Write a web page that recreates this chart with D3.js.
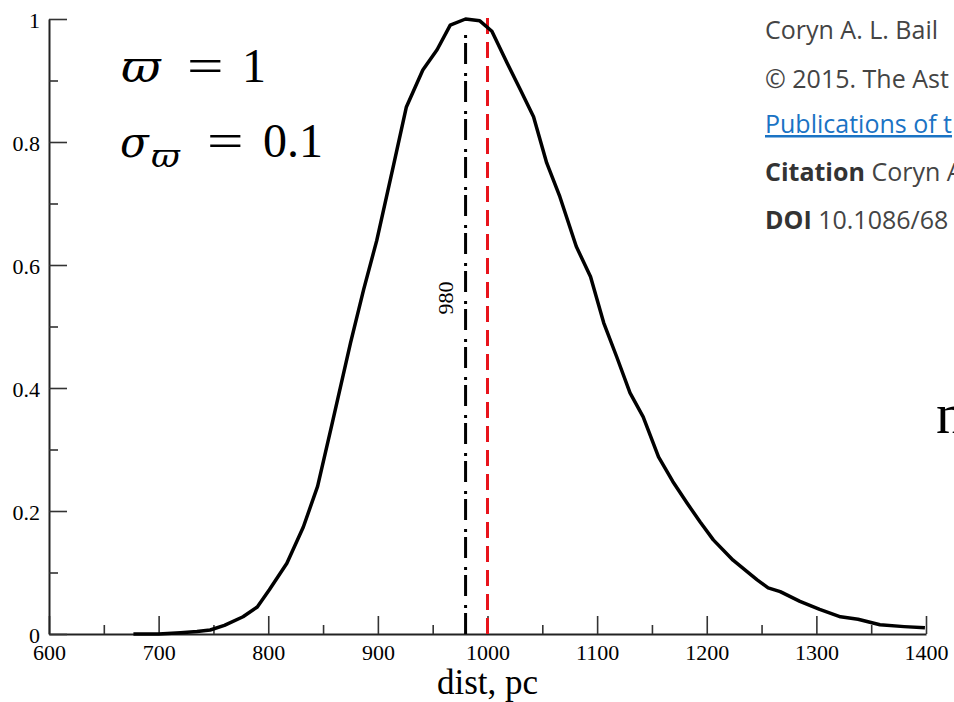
<!DOCTYPE html>
<html>
<head>
<meta charset="utf-8">
<script src="https://cdn.jsdelivr.net/npm/d3@7"></script>
<style>
  html, body { margin: 0; padding: 0; background: #fff; overflow: hidden; }
  svg { display: block; }
</style>
</head>
<body>
<svg id="chart" width="954" height="702"></svg>
<script>
// ---- data ----
const dist = [677, 700, 720, 735, 747, 760, 777, 790, 801, 817, 832, 845, 858, 875, 887, 899, 914, 926, 941, 954, 966, 980, 993, 1004, 1018, 1030, 1042, 1054, 1066, 1081, 1094, 1106, 1118, 1130, 1142, 1156, 1169, 1182, 1194, 1206, 1224, 1246, 1256, 1267, 1285, 1303, 1322, 1338, 1358, 1380, 1399];
const density = [0.000, 0.000, 0.002, 0.004, 0.0065, 0.014, 0.028, 0.044, 0.072, 0.115, 0.174, 0.24, 0.34, 0.473, 0.56, 0.64, 0.76, 0.857, 0.917, 0.95, 0.99, 1.0, 0.997, 0.98, 0.928, 0.885, 0.841, 0.766, 0.711, 0.63, 0.581, 0.506, 0.45, 0.392, 0.353, 0.288, 0.248, 0.213, 0.182, 0.153, 0.12, 0.088, 0.075, 0.069, 0.053, 0.04, 0.028, 0.024, 0.015, 0.012, 0.01];
const xMajorTicks = [600, 700, 800, 900, 1000, 1100, 1200, 1300, 1400];
const xMinorTicks = [650, 750, 850, 950, 1050, 1150, 1250, 1350];
const yMajorTicks = [0, 0.2, 0.4, 0.6, 0.8, 1];
const yMinorTicks = [0.1, 0.3, 0.5, 0.7, 0.9];
const yTickLabels = ["0", "0.2", "0.4", "0.6", "0.8", "1"];
const modeValue = 980;
const trueValue = 1000;
const xLabel = "dist, pc";
const sideLines = [
  [{t: "Coryn A. L. Bail", b: false}],
  [{t: "© 2015. The Ast", b: false}],
  [{t: "Publications of t", b: false, link: true}],
  [{t: "Citation", b: true}, {t: " Coryn A", b: false}],
  [{t: "DOI", b: true}, {t: " 10.1086/68", b: false}]
];

// ---- scales ----
const svg = d3.select("#chart");
const x = d3.scaleLinear().domain([600, 1400]).range([49, 926]);
const y = d3.scaleLinear().domain([0, 1]).range([634, 19]);
const serif = "'Liberation Serif', 'Times New Roman', serif";

// ---- axes ----
const xAxis = d3.axisBottom(x).tickValues(xMajorTicks).tickSizeInner(-18).tickSizeOuter(0).tickPadding(10).tickFormat(d3.format("d"));
const gx = svg.append("g").attr("transform", `translate(0,${y(0)})`).call(xAxis);
const xMinor = d3.axisBottom(x).tickValues(xMinorTicks).tickSizeInner(-9).tickSizeOuter(0).tickFormat("");
const gxm = svg.append("g").attr("transform", `translate(0,${y(0)})`).call(xMinor);
gxm.select(".domain").remove();

const yAxis = d3.axisLeft(y).tickValues(yMajorTicks).tickSizeInner(-18).tickSizeOuter(0).tickPadding(9)
  .tickFormat((d, i) => yTickLabels[i]);
const gy = svg.append("g").attr("transform", `translate(${x(600)},0)`).call(yAxis);
const yMinor = d3.axisLeft(y).tickValues(yMinorTicks).tickSizeInner(-9).tickSizeOuter(0).tickFormat("");
const gym = svg.append("g").attr("transform", `translate(${x(600)},0)`).call(yMinor);
gym.select(".domain").remove();

[gx, gy].forEach(g => {
  g.select(".domain").attr("stroke", "#222").attr("stroke-width", 2);
  g.selectAll(".tick text").attr("font-family", serif).attr("font-size", 22).attr("fill", "#000");
});
[gx, gxm, gy, gym].forEach(g => g.selectAll(".tick line").attr("stroke", "#333").attr("stroke-width", 1.6));
gy.selectAll(".tick text").attr("dy", "0.4em");

// ---- reference lines ----
svg.append("line")
  .attr("x1", x(modeValue)).attr("x2", x(modeValue))
  .attr("y1", y(0)).attr("y2", 29)
  .attr("stroke", "#000").attr("stroke-width", 3)
  .attr("stroke-dasharray", "21,5,3,9");
svg.append("line")
  .attr("x1", x(trueValue)).attr("x2", x(trueValue))
  .attr("y1", y(0)).attr("y2", 18)
  .attr("stroke", "#e8131b").attr("stroke-width", 3)
  .attr("stroke-dasharray", "16,8");
svg.append("text")
  .attr("transform", `translate(${x(modeValue) - 13},298) rotate(-90)`)
  .attr("text-anchor", "middle")
  .attr("font-family", serif).attr("font-size", 22).attr("fill", "#000")
  .text(String(modeValue));

// ---- curve ----
const pts = dist.map((d, i) => [d, density[i]]);
svg.append("path")
  .datum(pts)
  .attr("fill", "none")
  .attr("stroke", "#000")
  .attr("stroke-width", 3.5)
  .attr("stroke-linejoin", "round")
  .attr("d", d3.line().x(d => x(d[0])).y(d => y(d[1])));

// ---- axis label ----
svg.append("text")
  .attr("x", x(1000)).attr("y", 694)
  .attr("text-anchor", "middle")
  .attr("font-family", serif).attr("font-size", 35).attr("fill", "#000")
  .text(xLabel);

// ---- annotation (math) ----
const mathFont = "'DejaVu Serif', 'Liberation Serif', serif";
const ann = svg.append("g").attr("fill", "#000");
ann.append("text").attr("transform", "translate(121,82) scale(1.1,1)").attr("font-family", mathFont).attr("font-style", "italic").attr("font-size", 44).text("ϖ");
ann.append("text").attr("transform", "translate(187,82) scale(1.35,1)").attr("font-family", serif).attr("font-size", 48).text("=");
ann.append("text").attr("x", 242).attr("y", 82).attr("font-family", serif).attr("font-size", 48).text("1");
ann.append("text").attr("x", 120).attr("y", 157).attr("font-family", mathFont).attr("font-style", "italic").attr("font-size", 42).text("σ");
ann.append("text").attr("transform", "translate(151,167) scale(1.1,1)").attr("font-family", mathFont).attr("font-style", "italic").attr("font-size", 32).text("ϖ");
ann.append("text").attr("transform", "translate(207,157) scale(1.35,1)").attr("font-family", serif).attr("font-size", 48).text("=");
ann.append("text").attr("x", 263).attr("y", 157).attr("font-family", serif).attr("font-size", 48).text("0.1");

// ---- overlapping page text on the right ----
const sans = "'Open Sans', 'Noto Sans', sans-serif";
const baselines = [39, 88, 133, 181, 229];
sideLines.forEach((parts, i) => {
  const t = svg.append("text").attr("x", 765).attr("y", baselines[i])
    .attr("font-family", sans).attr("font-size", 25).attr("fill", "#444");
  parts.forEach(p => {
    const ts = t.append("tspan").text(p.t);
    if (p.b) ts.attr("font-weight", "bold").attr("fill", "#333");
    if (p.link) ts.attr("fill", "#1a73c4").attr("text-decoration", "underline");
  });
});
svg.append("text")
  .attr("x", 936).attr("y", 433)
  .attr("font-family", serif).attr("font-size", 58).attr("fill", "#000")
  .text("n");
</script>
</body>
</html>
